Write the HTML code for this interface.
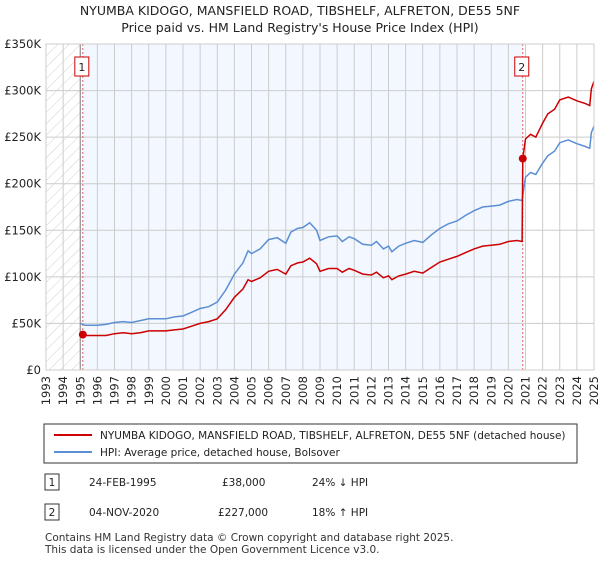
<!DOCTYPE html>
<html><head><meta charset="utf-8"><style>
body{margin:0;background:#fff;font-family:"Liberation Sans","DejaVu Sans",sans-serif;}
svg text{font-family:"DejaVu Sans","Liberation Sans",sans-serif;}
</style></head><body>
<svg id="chart" width="600" height="560" viewBox="0 0 600 560" xmlns="http://www.w3.org/2000/svg">
<defs><pattern id="hatch" width="8" height="8" patternUnits="userSpaceOnUse" patternTransform="rotate(45)"><line x1="0" y1="0" x2="0" y2="8" stroke="#d0d0d0" stroke-width="1"/></pattern></defs>
<text x="300" y="15" text-anchor="middle" font-size="12.5" fill="#222">NYUMBA KIDOGO, MANSFIELD ROAD, TIBSHELF, ALFRETON, DE55 5NF</text>
<text x="300" y="32" text-anchor="middle" font-size="12.5" fill="#222">Price paid vs. HM Land Registry's House Price Index (HPI)</text>
<g id="plot"></g>
<g>
<rect x="44" y="424" width="533" height="39" fill="#fff" stroke="#333" stroke-width="1"/>
<line x1="54" y1="435" x2="92" y2="435" stroke="#cc0000" stroke-width="2"/>
<text x="100" y="439" font-size="10.5" fill="#222">NYUMBA KIDOGO, MANSFIELD ROAD, TIBSHELF, ALFRETON, DE55 5NF (detached house)</text>
<line x1="54" y1="452" x2="92" y2="452" stroke="#5b8fd4" stroke-width="2"/>
<text x="100" y="456" font-size="10.5" fill="#222">HPI: Average price, detached house, Bolsover</text>
</g>
<g font-size="10.5" fill="#222">
<rect x="45" y="474" width="14" height="16" fill="#fff" stroke="#333"/><text x="52" y="486" text-anchor="middle">1</text>
<text x="89" y="486">24-FEB-1995</text><text x="222" y="486">£38,000</text><text x="312" y="486">24% ↓ HPI</text>
<rect x="45" y="504" width="14" height="16" fill="#fff" stroke="#333"/><text x="52" y="516" text-anchor="middle">2</text>
<text x="89" y="516">04-NOV-2020</text><text x="218" y="516">£227,000</text><text x="312" y="516">18% ↑ HPI</text>
</g>
<text x="45" y="541" font-size="10.5" fill="#333">Contains HM Land Registry data © Crown copyright and database right 2025.</text>
<text x="45" y="553" font-size="10.5" fill="#333">This data is licensed under the Open Government Licence v3.0.</text>
</svg>
<script>
const hpiDates=[1995.0,1995.3,1996,1996.5,1997,1997.5,1998,1998.5,1999,1999.5,2000,2000.5,2001,2001.5,2002,2002.5,2003,2003.5,2004,2004.5,2004.8,2005,2005.5,2006,2006.5,2007,2007.3,2007.7,2008,2008.4,2008.8,2009,2009.5,2010,2010.3,2010.7,2011,2011.5,2012,2012.3,2012.7,2013,2013.2,2013.6,2014,2014.5,2015,2015.5,2016,2016.5,2017,2017.5,2018,2018.5,2019,2019.5,2020,2020.5,2020.8,2021,2021.3,2021.6,2022,2022.3,2022.7,2023,2023.5,2024,2024.5,2024.75,2024.85,2025];
const hpiValues=[50,48,48,49,51,52,51,53,55,55,55,57,58,62,66,68,73,86,103,115,128,125,130,140,142,136,148,152,153,158,150,139,143,144,138,143,141,135,134,138,130,133,127,133,136,139,137,145,152,157,160,166,171,175,176,177,181,183,182,207,212,210,222,230,235,244,247,243,240,238,255,262];
const priceDates=[1995.15,1995.3,1996,1996.5,1997,1997.5,1998,1998.5,1999,1999.5,2000,2000.5,2001,2001.5,2002,2002.5,2003,2003.5,2004,2004.5,2004.8,2005,2005.5,2006,2006.5,2007,2007.3,2007.7,2008,2008.4,2008.8,2009,2009.5,2010,2010.3,2010.7,2011,2011.5,2012,2012.3,2012.7,2013,2013.2,2013.6,2014,2014.5,2015,2015.5,2016,2016.5,2017,2017.5,2018,2018.5,2019,2019.5,2020,2020.5,2020.8,2020.84,2021,2021.3,2021.6,2022,2022.3,2022.7,2023,2023.5,2024,2024.5,2024.75,2024.85,2025];
const priceValues=[38,37,37,37,39,40,39,40,42,42,42,43,44,47,50,52,55,65,78,87,97,95,99,106,108,103,112,115,116,120,114,106,109,109,105,109,107,103,102,105,99,101,97,101,103,106,104,110,116,119,122,126,130,133,134,135,138,139,138,227,248,253,250,265,275,280,290,293,289,286,284,302,310];
const saleDates=[1995.15,2020.84];
const saleValues=[38,227];
const saleLabels=["1","2"];
const yTicks=[0,50,100,150,200,250,300,350];
const yTickLabels=["£0","£50K","£100K","£150K","£200K","£250K","£300K","£350K"];
const years=[1993,1994,1995,1996,1997,1998,1999,2000,2001,2002,2003,2004,2005,2006,2007,2008,2009,2010,2011,2012,2013,2014,2015,2016,2017,2018,2019,2020,2021,2022,2023,2024,2025];

const X0=46,X1=594,Y0=370,Y1=44;
const x=t=>X0+(t-1993)/(2025-1993)*(X1-X0);
const y=v=>Y0-v/350*(Y0-Y1);
const NS="http://www.w3.org/2000/svg";
const g=document.getElementById('plot');
function mk(tag,attrs,parent){const e=document.createElementNS(NS,tag);for(const k in attrs)e.setAttribute(k,attrs[k]);(parent||g).appendChild(e);return e;}
let e;
e=mk('rect',{x:x(saleDates[0]),y:Y1,width:x(saleDates[1])-x(saleDates[0]),height:Y0-Y1,fill:'#f3f7ff'});


e=mk('rect',{x:X0,y:Y1,width:x(1995)-X0,height:Y0-Y1,fill:'url(#hatch)'});


years.forEach(yr=>{
 e=mk('line',{x1:x(yr),x2:x(yr),y1:Y1,y2:Y0,stroke:'#ccc','stroke-width':1});
 
 
 e=mk('text',{transform:`translate(${x(yr)+4},${Y0+6}) rotate(-90)`,'text-anchor':'end','font-size':11.5,fill:'#222'});
 e.textContent=yr;
 
 
});
yTicks.forEach((v,i)=>{
 e=mk('line',{x1:X0,x2:X1,y1:y(v),y2:y(v),stroke:'#ccc','stroke-width':1});
 
 
 e=mk('text',{x:X0-5,y:y(v)+4,'text-anchor':'end','font-size':11.5,fill:'#222'});
 e.textContent=yTickLabels[i];
 
 
});
e=mk('line',{x1:x(1995),x2:x(1995),y1:Y1,y2:Y0,stroke:'#888','stroke-width':1});


saleDates.forEach((d,i)=>{
 e=mk('line',{x1:x(d),x2:x(d),y1:Y1,y2:Y0,stroke:'#e06060','stroke-width':1,'stroke-dasharray':'2,2'});
 
 
});
function path(ds,vs){return ds.map((d,i)=>(i?'L':'M')+x(d).toFixed(1)+','+y(vs[i]).toFixed(1)).join('');}
e=mk('path',{d:path(hpiDates,hpiValues),fill:'none',stroke:'#5b8fd4','stroke-width':1.5});


e=mk('path',{d:path(priceDates,priceValues),fill:'none',stroke:'#cc0000','stroke-width':1.5});


saleDates.forEach((d,i)=>{
 e=mk('circle',{cx:x(d),cy:y(saleValues[i]),r:4,fill:'#cc0000'});
 
 
 e=mk('rect',{x:x(d)-8,y:57,width:14,height:19,fill:'#fff',stroke:'#cc0000'});
 
 
 e=mk('text',{x:x(d)-1,y:71,'text-anchor':'middle','font-size':11,fill:'#222'});
 e.textContent=saleLabels[i];
 
 
});
e=mk('rect',{x:X0,y:Y1,width:X1-X0,height:Y0-Y1,fill:'none',stroke:'#ccc'});


</script>
</body></html>
